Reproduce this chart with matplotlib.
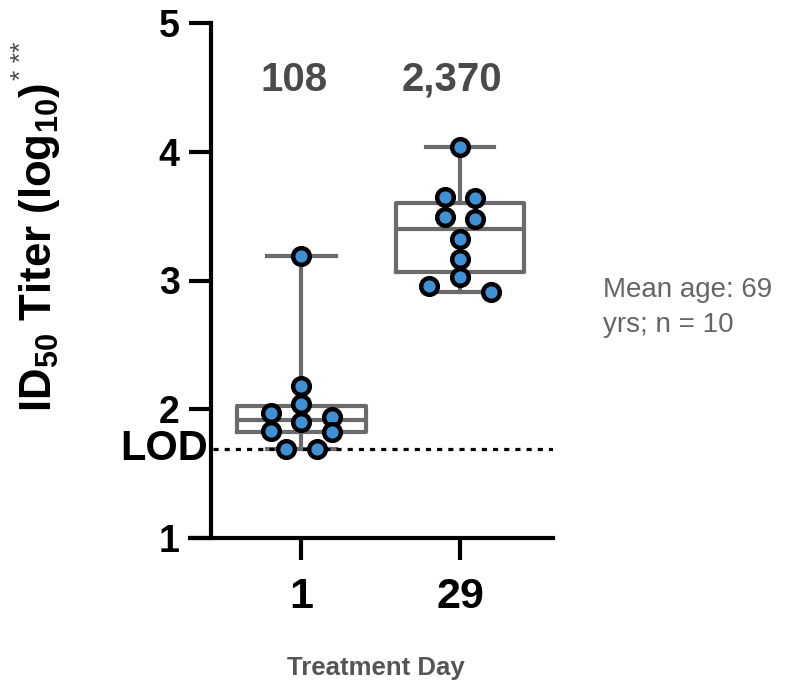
import numpy as np
import matplotlib
matplotlib.use("Agg")
import matplotlib.pyplot as plt

plt.rcParams['font.family'] = ['Liberation Sans', 'DejaVu Sans']
plt.rcParams['mathtext.fontset'] = 'custom'
plt.rcParams['mathtext.rm'] = 'Liberation Sans'
plt.rcParams['mathtext.bf'] = 'Liberation Sans:bold'

# data: log10 ID50 titers per treatment day
days = ["1", "29"]
titers_day1 = [3.19, 2.18, 2.04, 1.97, 1.94, 1.90, 1.83, 1.82, 1.69, 1.69]
titers_day29 = [4.04, 3.65, 3.64, 3.49, 3.48, 3.32, 3.17, 3.03, 2.96, 2.91]
gmt_labels = ["108", "2,370"]
lod = 1.69
yticks = [1, 2, 3, 4, 5]
note = "Mean age: 69\nyrs; n = 10"

BOX_GRAY = "#6b6b6b"
DOT_BLUE = "#3f91d6"
TEXT_GRAY = "#4a4a4a"


def swarm_offsets(values, row_height=0.125, lane=0.195):
    """Group points into rows (top down) and spread each row around the centre."""
    order = np.argsort(values)[::-1]
    offsets = np.zeros(len(values))
    i = 0
    while i < len(order):
        top = values[order[i]]
        row = [order[i]]
        j = i + 1
        while j < len(order) and top - values[order[j]] < row_height:
            row.append(order[j])
            j += 1
        n = len(row)
        if n % 2:
            slots = [0] + [s * k for k in range(1, n) for s in (-1, 1)]
        else:
            slots = [s * (k - 0.5) for k in range(1, n) for s in (-1, 1)]
        for idx, slot in zip(row, slots):
            offsets[idx] = slot * lane
        i = j
    return offsets


fig = plt.figure(figsize=(7.85, 6.89), dpi=100)
ax = fig.add_axes([190 / 785, 1 - 538 / 689, 363 / 785, 515 / 689])

groups = [titers_day1, titers_day29]
positions = np.arange(len(groups))

ax.boxplot(groups, positions=positions, widths=0.81, whis=(0, 100),
           showfliers=False, capwidths=0.43,
           boxprops=dict(color=BOX_GRAY, linewidth=3),
           whiskerprops=dict(color=BOX_GRAY, linewidth=3),
           capprops=dict(color=BOX_GRAY, linewidth=3),
           medianprops=dict(color=BOX_GRAY, linewidth=3))

for pos, vals in zip(positions, groups):
    vals = np.array(vals)
    ax.plot(pos + swarm_offsets(vals), vals, 'o', ms=12, mfc=DOT_BLUE,
            mec='black', mew=3.2, zorder=5, clip_on=False)

for pos, lab in zip(positions, gmt_labels):
    ax.text(pos - 0.05, 4.56, lab, ha='center', va='center', fontsize=29,
            fontweight='bold', color=TEXT_GRAY)

left_pos = -0.571
ax.set_xlim(-0.7035, 1.587)
ax.set_ylim(1, 5)
ax.spines['left'].set_position(('data', left_pos))
for side in ['top', 'right']:
    ax.spines[side].set_visible(False)
for side in ['left', 'bottom']:
    ax.spines[side].set_linewidth(3)

ax.axhline(lod, xmin=(left_pos + 0.7035) / (1.587 + 0.7035) + 0.005, xmax=1,
           color='black', linewidth=2.3, linestyle=(0, (1.6, 1.9)))
ax.annotate("LOD", xy=(left_pos, lod), xytext=(-2, 0), textcoords='offset points',
            ha='right', va='center', fontsize=30, fontweight='bold')

ax.set_yticks(yticks)
ax.set_yticklabels([str(t) for t in yticks])
ax.set_xticks(positions)
ax.set_xticklabels(days)
ax.tick_params(axis='y', direction='out', length=15.5, width=3, pad=7,
               labelsize=27)
ax.tick_params(axis='x', direction='out', length=16, width=3, pad=12,
               labelsize=31)
for lab in ax.get_xticklabels() + ax.get_yticklabels():
    lab.set_fontweight('bold')

fig.text(40 / 785, 1 - 412 / 689,
         r"ID$_{\mathbf{50}}$ Titer (log$_{\mathbf{10}}$)",
         rotation=90, ha='center', va='bottom', fontsize=31.5, fontweight='bold')
fig.text(22 / 785, 1 - 80 / 689, "* **", rotation=90, ha='center',
         va='bottom', fontsize=19, color=TEXT_GRAY)
fig.text(376 / 785, 1 - 668 / 689, "Treatment Day", ha='center', va='center',
         fontsize=18.5, fontweight='bold', color="#555555")
fig.text(603 / 785, 1 - 277 / 689, note, ha='left', va='top', fontsize=20,
         color="#666666", linespacing=1.45)

fig.savefig("out.png", dpi=100)
